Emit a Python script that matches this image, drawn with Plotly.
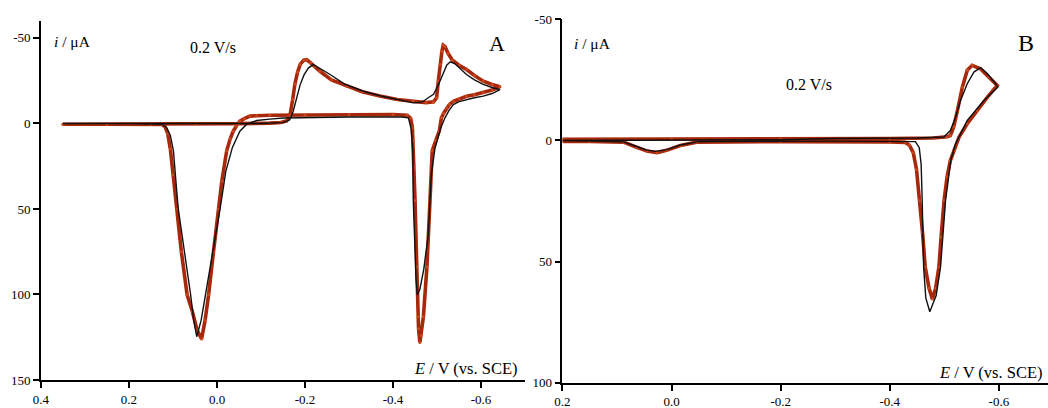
import plotly.graph_objects as go

# ---------------- Panel A: cyclic voltammogram, 0.2 V/s ----------------
# simulated curve (red)
a_sim_E = [0.35, 0.25, 0.15, 0.05, -0.05, -0.12, -0.145, -0.158, -0.166, -0.172,
           -0.177, -0.183, -0.189, -0.197, -0.204, -0.212, -0.222, -0.234, -0.26, -0.295,
           -0.33, -0.37, -0.41, -0.446, -0.475, -0.492, -0.499, -0.503, -0.507, -0.511,
           -0.514, -0.518, -0.525, -0.535, -0.55, -0.567, -0.585, -0.605, -0.625, -0.643,
           -0.625, -0.605, -0.585, -0.567, -0.55, -0.537, -0.528, -0.522, -0.515, -0.51,
           -0.505, -0.497, -0.489, -0.484, -0.477, -0.469, -0.464, -0.461, -0.458, -0.457,
           -0.454, -0.45, -0.448, -0.446, -0.444, -0.44, -0.432, -0.4, -0.3, -0.2,
           -0.12, -0.09, -0.075, -0.062, -0.052, -0.044, -0.037, -0.03, -0.022, -0.011,
           -0.003, 0.008, 0.019, 0.027, 0.035, 0.045, 0.056, 0.068, 0.081, 0.091,
           0.1, 0.106, 0.112, 0.118, 0.125, 0.15, 0.25, 0.35]
a_sim_i = [0.5, 0.5, 0.4, 0.3, 0.1, -0.2, -0.5, -1.5, -5, -14,
           -23, -30, -34.5, -37, -37.3, -35.5, -33, -30.5, -25.5, -21.8,
           -18.5, -16, -14, -13, -12.2, -12.6, -15, -25, -34.4, -42,
           -45.7, -45, -41, -37, -34, -31.5, -28, -24.7, -22.8, -21.5,
           -19.5, -17.9, -16.8, -15.9, -14.5, -13, -11, -9, -6, -3.3,
           4.5, 10, 16, 45, 84, 113, 124, 128, 120, 113,
           84, 45, 26, 10, 2.5, -3, -4.8, -5.2, -5.2, -5.0,
           -4.8, -4.5, -4.3, -2.8, -1.3, 1.5, 4.5, 9, 16, 33.7,
           50, 75, 100, 115, 126, 121, 110, 100, 75, 50,
           30, 15, 6, 2, 0.6, 0.5, 0.5, 0.5]

# experimental curve (black)
a_exp_E = [0.35, 0.2, 0.05, -0.1, -0.15, -0.165, -0.173, -0.181, -0.189, -0.198,
           -0.208, -0.219, -0.232, -0.257, -0.29, -0.333, -0.37, -0.408, -0.446, -0.461,
           -0.469, -0.48, -0.492, -0.503, -0.513, -0.522, -0.53, -0.54, -0.553, -0.567,
           -0.585, -0.605, -0.625, -0.643,
           -0.625, -0.605, -0.585, -0.567, -0.55, -0.537, -0.527, -0.518, -0.508, -0.495,
           -0.487, -0.484, -0.48, -0.47, -0.461, -0.455, -0.452, -0.45, -0.448, -0.446,
           -0.445, -0.441, -0.435, -0.42, -0.3, -0.15, -0.12, -0.09, -0.067, -0.052,
           -0.035, -0.02, -0.007, 0.01, 0.026, 0.036, 0.046, 0.053, 0.06, 0.074,
           0.088, 0.093, 0.099, 0.106, 0.114, 0.125, 0.2, 0.35]
a_exp_i = [0, 0, 0, 0, -0.5, -2, -7, -15, -22.7, -28.5,
           -32.5, -34.4, -32.5, -28.6, -23, -18.8, -16.2, -14, -12, -12.2,
           -13, -15, -17, -22.5, -29, -34, -36, -35, -32, -28.6,
           -25.5, -22.8, -21, -19.8,
           -17.5, -16, -15, -14, -12.8, -11, -7.5, -3.3, 3, 15,
           30, 45, 65, 85, 97, 100.3, 90, 74.5, 60, 45,
           16, 3, -3.3, -3.8, -3.8, -3.2, -2.5, -1.7, 0.6, 4.5,
           14, 28, 50, 75, 100, 115, 124.7, 115, 100, 75,
           50, 35, 16, 7, 2.6, 0.5, 0, 0]

# ---------------- Panel B: cyclic voltammogram, 0.2 V/s ----------------
b_sim_E = [0.2, 0.0, -0.2, -0.4, -0.48, -0.505, -0.511, -0.517, -0.524, -0.533,
           -0.542, -0.551, -0.566, -0.582, -0.597,
           -0.579, -0.56, -0.542, -0.527, -0.517, -0.511, -0.505, -0.4995, -0.494, -0.49,
           -0.484, -0.478, -0.472, -0.465, -0.46, -0.455, -0.449, -0.443, -0.436, -0.428,
           -0.4, -0.2, -0.046, -0.016, 0.009, 0.027, 0.045, 0.064, 0.088, 0.15, 0.2]
b_sim_i = [-0.5, -0.5, -0.6, -0.8, -1.0, -1.5, -2, -5.5, -12.4, -22,
           -29, -31, -29.6, -26.2, -22.7,
           -17.9, -12.4, -6.9, -1.4, 4.1, 8.3, 15, 24.8, 40, 52.3,
           61, 65.4, 61, 52.3, 38, 24.8, 12, 5, 2, 0.8,
           0.6, 0.5, 0.7, 2.1, 4.1, 5, 4.4, 2.8, 0.7, 0.4, 0.4]

b_exp_E = [0.2, -0.2, -0.3, -0.45, -0.499, -0.511, -0.5205, -0.5297, -0.542, -0.5541,
           -0.5664, -0.5787, -0.5939, -0.598,
           -0.5725, -0.542, -0.5205, -0.512, -0.5022, -0.493, -0.485, -0.4733, -0.466, -0.462,
           -0.4594, -0.4575, -0.454, -0.447, -0.3, -0.05, -0.016, 0.009, 0.03, 0.045,
           0.064, 0.088, 0.2]
b_exp_i = [0, -0.3, -0.8, -1.0, -1.4, -4.1, -9.6, -16.5, -23.4, -28.2,
           -30, -27.6, -23.4, -22,
           -16.5, -8.3, 1.4, 8, 24.8, 52.3, 64, 70.7, 65, 52.3,
           24.8, 10, 3, 0.5, 0.3, 0.5, 1.9, 3.8, 4.5, 4,
           2.5, 0.6, 0]

# tick labels
a_xticks = [0.4, 0.2, 0.0, -0.2, -0.4, -0.6]
b_xticks = [0.2, 0.0, -0.2, -0.4, -0.6]
a_yticks = [-50, 0, 50, 100, 150]
b_yticks = [-50, 0, 50, 100]

SIM_LINE = "#a8280c"
SIM_MARK = "#c9471b"
EXP_LINE = "#101010"
FONT = "Liberation Serif"

fig = go.Figure()

def add_pair(E_sim, i_sim, E_exp, i_exp, xa, ya):
    fig.add_trace(go.Scatter(
        x=E_sim, y=i_sim, xaxis=xa, yaxis=ya, mode="lines+markers",
        line=dict(color=SIM_LINE, width=3.6),
        marker=dict(color=SIM_MARK, size=3),
        showlegend=False, hoverinfo="skip"))
    fig.add_trace(go.Scatter(
        x=E_exp, y=i_exp, xaxis=xa, yaxis=ya, mode="lines",
        line=dict(color=EXP_LINE, width=1.4),
        showlegend=False, hoverinfo="skip"))

add_pair(a_sim_E, a_sim_i, a_exp_E, a_exp_i, "x", "y")
add_pair(b_sim_E, b_sim_i, b_exp_E, b_exp_i, "x2", "y2")

axis_common = dict(
    showline=True, linecolor="black", linewidth=1.8, mirror=False,
    ticks="outside", ticklen=6, tickwidth=1.5, tickcolor="black",
    showgrid=False, zeroline=False, automargin=False,
    tickfont=dict(family=FONT, size=13, color="black"),
)

def fmt(v):
    return "0.0" if v == 0 else f"{v:.1f}"

fig.update_layout(
    width=1048, height=408,
    margin=dict(l=0, r=0, t=0, b=0),
    paper_bgcolor="white", plot_bgcolor="white",
    xaxis=dict(domain=[0.0391, 0.501], range=[0.4, -0.7], anchor="y",
               tickvals=a_xticks, ticktext=[fmt(v) for v in a_xticks], **axis_common),
    yaxis=dict(domain=[0.0686, 0.949], range=[150, -60], anchor="x",
               tickvals=a_yticks, ticktext=[str(v) for v in a_yticks], **axis_common),
    xaxis2=dict(domain=[0.5367, 1.0], range=[0.2, -0.69], anchor="y2",
                tickvals=b_xticks, ticktext=[fmt(v) for v in b_xticks], **axis_common),
    yaxis2=dict(domain=[0.062, 0.9527], range=[100, -50], anchor="x2",
                tickvals=b_yticks, ticktext=[str(v) for v in b_yticks], **axis_common),
)

def label(x, y, text, size, xanchor="center"):
    fig.add_annotation(x=x, y=y, xref="paper", yref="paper", text=text,
                       showarrow=False, xanchor=xanchor, yanchor="middle",
                       font=dict(family=FONT, size=size, color="black"))

# Panel A labels
label(0.0496, 0.8995, "<i>i</i> / μA", 15.5, "left")
label(0.2032, 0.8824, "0.2 V/s", 16)
label(0.4742, 0.8946, "A", 22)
label(0.4962, 0.098, "<i>E</i> / V (vs. SCE)", 16.5, "right")
# Panel B labels
label(0.5458, 0.8946, "<i>i</i> / μA", 15.5, "left")
label(0.7715, 0.7917, "0.2 V/s", 16)
label(0.979, 0.8946, "B", 24)
label(0.997, 0.0882, "<i>E</i> / V (vs. SCE)", 16.5, "right")

fig.write_html("out.html")
